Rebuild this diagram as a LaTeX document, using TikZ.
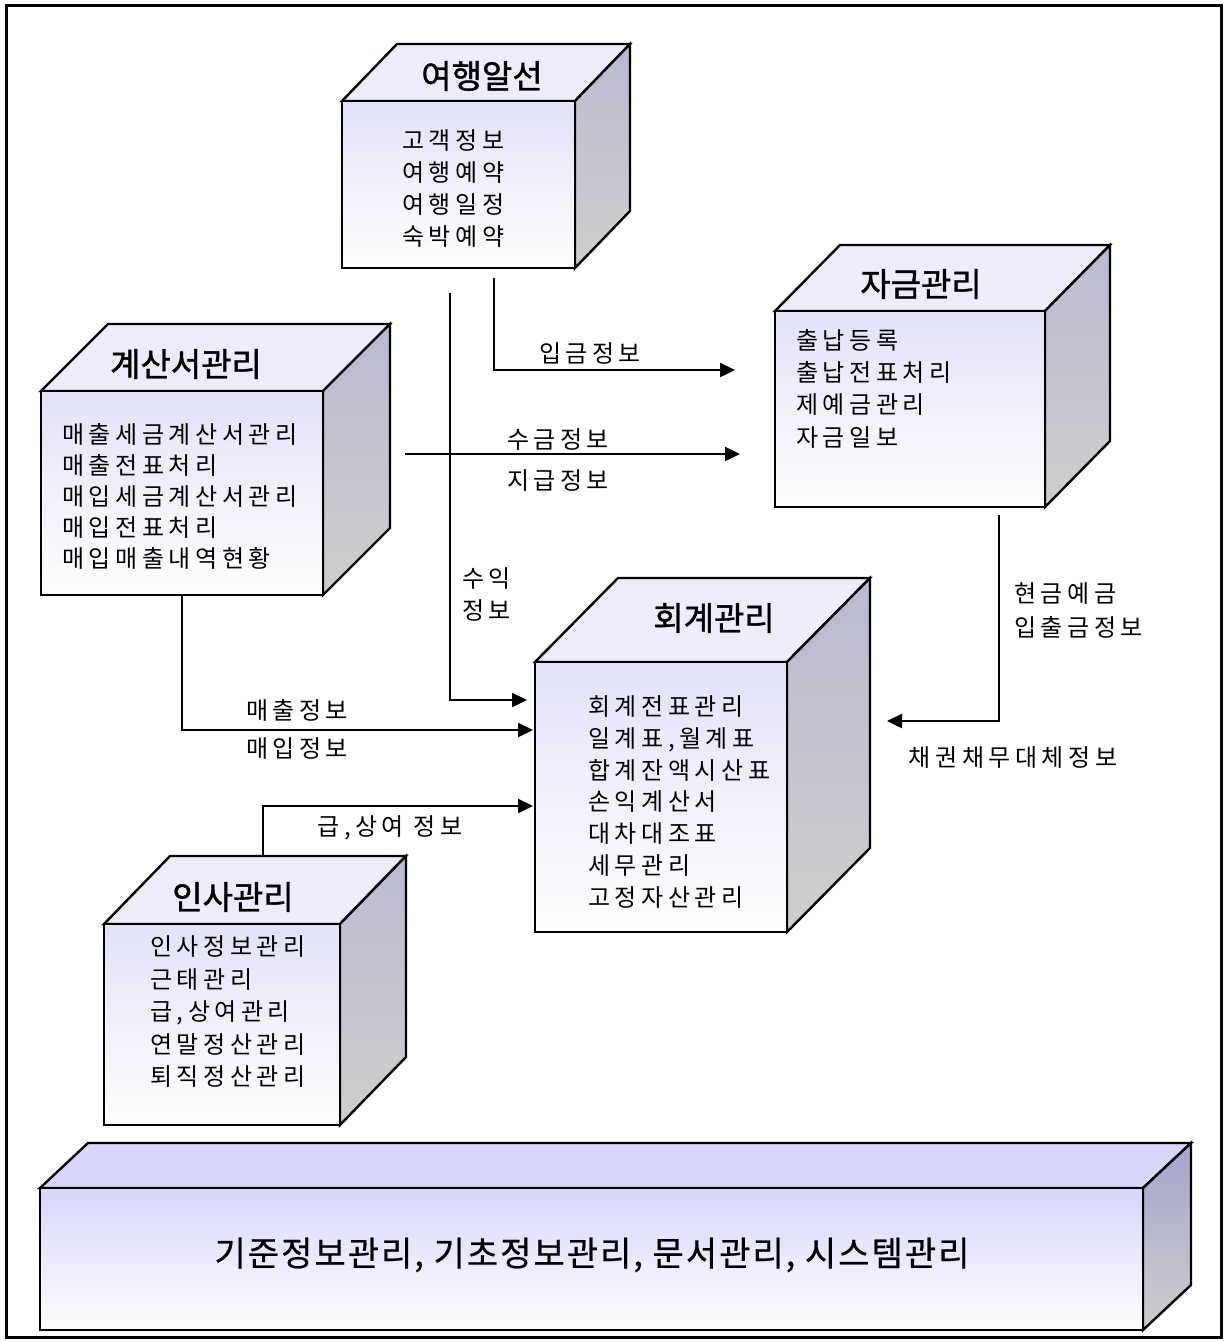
\documentclass[tikz,border=0pt]{standalone}
\usepackage{fontspec}
\setmainfont{Noto Sans CJK KR}
\newfontfamily\kritem[LetterSpace=19]{Noto Sans CJK KR}
\newfontfamily\krtitle[FakeBold=1.2]{Noto Sans CJK KR}
\newfontfamily\krbase[FakeBold=0.6,LetterSpace=6]{Noto Sans CJK KR}
\usetikzlibrary{arrows.meta}
\definecolor{sfront}{RGB}{226,226,248}
\definecolor{stop}{RGB}{236,236,251}
\definecolor{ssideA}{RGB}{186,186,208}
\definecolor{ssideB}{RGB}{206,206,206}
\definecolor{bfront}{RGB}{214,214,250}
\definecolor{btop}{RGB}{216,216,250}
\definecolor{bsideA}{RGB}{165,165,205}
\definecolor{bsideB}{RGB}{205,205,205}
\tikzset{
  edge/.style={line width=2.4pt, line join=miter},
  s-top/.style={edge, draw=black, fill=stop},
  s-side/.style={edge, draw=black, top color=ssideA, bottom color=ssideB},
  s-front/.style={edge, draw=black, top color=sfront, bottom color=white},
  b-top/.style={edge, draw=black, fill=btop},
  b-side/.style={edge, draw=black, top color=bsideA, bottom color=bsideB},
  b-front/.style={edge, draw=black, top color=bfront, bottom color=white},
  title/.style={inner sep=0pt, font=\krtitle\fontsize{33}{36}\selectfont},
  items/.style={inner sep=0pt, align=left, anchor=west, font=\kritem\fontsize{24}{32.3}\selectfont},
  lbl/.style={inner sep=0pt, align=left, font=\kritem\fontsize{24}{33}\selectfont},
  conn/.style={line width=2.4pt},
  arr/.style={line width=2.4pt, -{Triangle[length=15pt,width=14pt]}},
}
% #1 name, #2 x1, #3 y1, #4 x2, #5 y2, #6 dx, #7 dy, #8 style prefix
\newcommand{\mycube}[8]{%
  \path[#8-top] (#2,#3) -- (#2+#6,#3+#7) -- (#4+#6,#3+#7) -- (#4,#3) -- cycle;
  \path[#8-side] (#4,#3) -- (#4+#6,#3+#7) -- (#4+#6,#5+#7) -- (#4,#5) -- cycle;
  \node[#8-front, inner sep=0pt, outer sep=0pt, anchor=north west,
        minimum width={(#4-#2)*1pt}, minimum height={(#5-#3)*1pt}] (#1) at (#2,#3) {};
}
\begin{document}
\begin{tikzpicture}[x=1pt,y=-1pt]
\useasboundingbox (0,0) rectangle (1227,1342);
\draw[line width=3pt] (6.5,5.5) rectangle (1221.5,1337);

% boxes
\mycube{yh}{342}{101}{575}{268}{55}{-57}{s}
\node[title] (yh-t) at (482,76) {여행알선};
\node[items] (yh-i) at (402,188.5) {고객정보\\여행예약\\여행일정\\숙박예약};

\mycube{gs}{41}{391}{323}{595}{67}{-67}{s}
\node[title] (gs-t) at (186,364) {계산서관리};
\node[items, font=\kritem\fontsize{24}{31}\selectfont] (gs-i) at (62,496) {매출세금계산서관리\\매출전표처리\\매입세금계산서관리\\매입전표처리\\매입매출내역현황};

\mycube{jg}{775}{311}{1045}{507}{65}{-66}{s}
\node[title] (jg-t) at (921,284) {자금관리};
\node[items] (jg-i) at (796,388.5) {출납등록\\출납전표처리\\제예금관리\\자금일보};

\mycube{hg}{535}{662}{787}{932}{83}{-84}{s}
\node[title] (hg-t) at (714,618) {회계관리};
\node[items, font=\kritem\fontsize{24}{31.7}\selectfont] (hg-i) at (588,802) {회계전표관리\\일계표,월계표\\합계잔액시산표\\손익계산서\\대차대조표\\세무관리\\고정자산관리};

\mycube{is}{104}{924}{340}{1125}{66}{-68}{s}
\node[title] (is-t) at (233,897) {인사관리};
\node[items, font=\kritem\fontsize{24}{32.5}\selectfont] (is-i) at (150,1012) {인사정보관리\\근태관리\\급,상여관리\\연말정산관리\\퇴직정산관리};

\mycube{base}{40}{1188}{1143}{1330}{48}{-45}{b}
\node[inner sep=0pt, font=\krbase\fontsize{34}{36}\selectfont] (base-t) at (592,1255) {기준정보관리, 기초정보관리, 문서관리, 시스템관리};

% connector end points
\coordinate (a1) at (494,278);
\coordinate (a2) at (735,370);
\coordinate (b1) at (450,293);
\coordinate (b2) at (527,700);
\coordinate (c1) at (405,454);
\coordinate (c2) at (740,454);
\coordinate (d2) at (533,730);
\coordinate (e1) at (263,856);
\coordinate (e2) at (533,806);
\coordinate (f1) at (999,515);
\coordinate (f2) at (887,721);

\draw[arr] (a1) |- (a2);
\draw[arr] (b1) |- (b2);
\draw[arr] (c1) -- (c2);
\draw[arr] (gs.south -| 182,0) |- (d2);
\draw[arr] (e1) |- (e2);
\draw[arr] (f1) |- (f2);

% labels
\node[lbl] (l-ig) at (590,353) {입금정보};
\node[lbl] (l-sg) at (558,440) {수금정보};
\node[lbl] (l-jg) at (558,481) {지급정보};
\node[lbl, anchor=west, font=\kritem\fontsize{24}{32}\selectfont] (l-si) at (462,594) {수익\\정보};
\node[lbl] (l-mc) at (297,710) {매출정보};
\node[lbl] (l-mi) at (297,749) {매입정보};
\node[lbl] (l-gs) at (390,828) {급,상여 정보};
\node[lbl, anchor=west, font=\kritem\fontsize{24}{34}\selectfont] (l-hg) at (1014,610) {현금예금\\입출금정보};
\node[lbl] (l-cg) at (1013,758) {채권채무대체정보};
\end{tikzpicture}
\end{document}
